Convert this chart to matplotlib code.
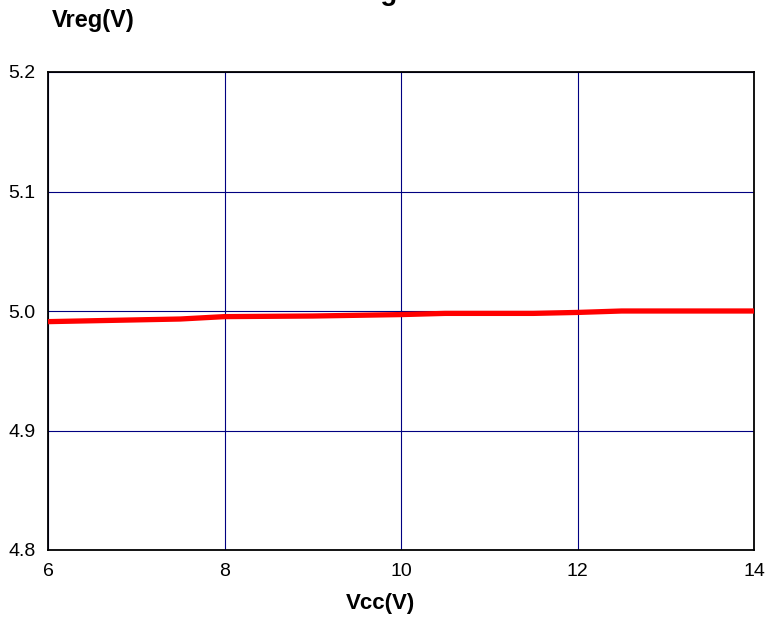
import matplotlib
matplotlib.use("Agg")
import matplotlib.pyplot as plt

plt.rcParams['font.family'] = ['Liberation Sans', 'DejaVu Sans']

# Supply voltage vs regulated output
vcc = [6, 7.5, 8, 9, 10, 10.5, 11.5, 12, 12.5, 14]
vreg = [4.9911, 4.9933, 4.9953, 4.9958, 4.9970, 4.9980, 4.9980, 4.9988, 5.0000, 5.0000]

x_ticks = [6, 8, 10, 12, 14]
y_ticks = [4.8, 4.9, 5.0, 5.1, 5.2]

fig = plt.figure(figsize=(7.68, 6.2), dpi=100)
ax = fig.add_axes([48 / 768, 1 - 550 / 620, 706 / 768, 478 / 620])

ax.plot(vcc, vreg, color='#ff0000', linewidth=3.8, solid_capstyle='butt', zorder=3)

ax.set_xlim(6, 14)
ax.set_ylim(4.8, 5.2)
ax.set_xticks(x_ticks)
ax.set_yticks(y_ticks)
ax.set_xticklabels([str(t) for t in x_ticks])
ax.set_yticklabels([f"{t:.1f}" for t in y_ticks])
ax.tick_params(axis='both', length=0, labelsize=14)
ax.tick_params(axis='x', pad=9)
ax.tick_params(axis='y', pad=9)
ax.grid(True, color='#000080', linewidth=0.8, zorder=1)
for s in ax.spines.values():
    s.set_linewidth(1.3)
    s.set_color('black')

# title sits mostly above the canvas, only its descender shows
fig.text(0.5, 1.0, "Line Regulation", ha='center', va='baseline',
         fontsize=20, fontweight='bold')
fig.text(52 / 768, 1 - 21 / 620, "Vreg(V)", ha='left', va='center',
         fontsize=17, fontweight='bold')
fig.text(380 / 768, 1 - 603 / 620, "Vcc(V)", ha='center', va='center',
         fontsize=16, fontweight='bold')

fig.savefig("out.png", dpi=100, facecolor='white')
